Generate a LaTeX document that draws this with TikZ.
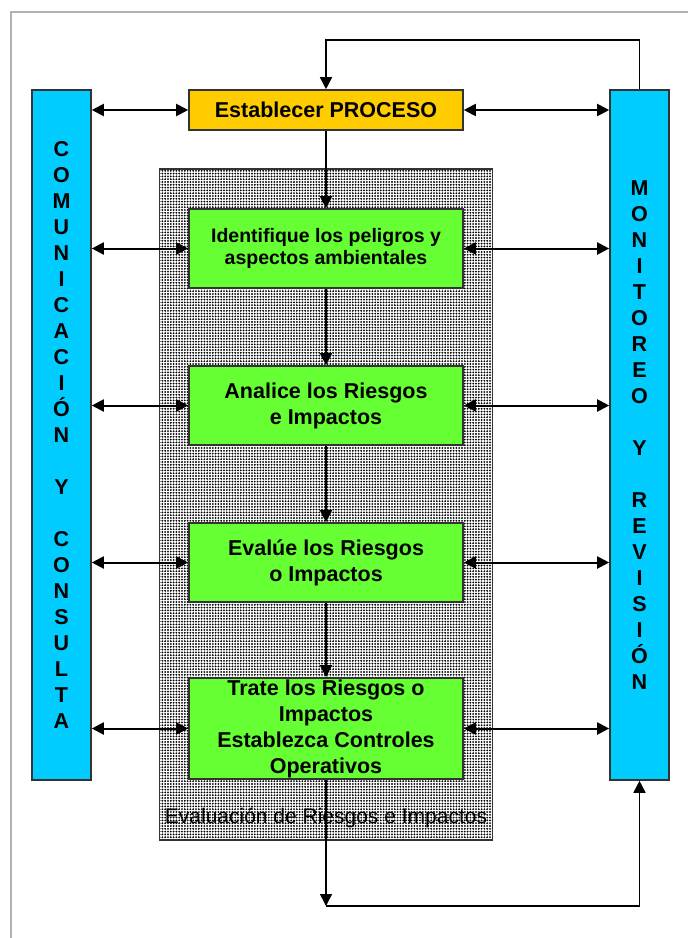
\documentclass[tikz,border=0pt]{standalone}
\usepackage{fontspec}
\setmainfont{Liberation Sans}
\usetikzlibrary{arrows.meta,patterns.meta}
\definecolor{celeste}{HTML}{00CCFF}
\definecolor{naranja}{HTML}{FFCC00}
\definecolor{verde}{HTML}{66FF33}
\def\letra{\fontsize{10.75}{13}\selectfont\bfseries}
\begin{document}
\begin{tikzpicture}[x=0.5pt,y=-0.5pt,
    every node/.style={font=\letra},
    barra/.style={draw=black!80,line width=0.8pt,fill=celeste,minimum width=29.5pt,minimum height=345pt,inner sep=0pt,align=center},
    caja/.style={draw=black!80,line width=0.8pt,fill=verde,minimum width=137pt,minimum height=39.5pt,inner sep=0pt,align=center},
    flecha/.style={line width=0.8pt,-{Triangle[length=6pt,width=6pt]}},
    doble/.style={line width=1pt,{Triangle[length=6pt,width=6pt]}-{Triangle[length=6pt,width=6pt]}}]
    \useasboundingbox (0,0) rectangle (688,938);
    % Rand der Seite
    \draw[black!30,line width=0.7pt] (11,938) -- (11,12) -- (688,12);

    % Zona de evaluacion
    \node[draw=black!80,line width=0.8pt,minimum width=166.5pt,minimum height=335.5pt,inner sep=0pt,
      preaction={fill=white},pattern={Dots[distance=1.4pt,radius=0.52pt]}] (zona) at (326,504.5) {};
    \node[anchor=base,font=\fontsize{10.5}{12}\selectfont,text=black] (etiqueta)
      at ([yshift=8.5pt]zona.south) {Evaluación de Riesgos e Impactos};

    % Barras laterales
    \node[barra] (comunicacion) at (61.5,435)
      {C\\O\\M\\U\\N\\I\\C\\A\\C\\I\\Ó\\N\\[13pt]Y\\[13pt]C\\O\\N\\S\\U\\L\\T\\A};
    \node[barra] (monitoreo) at (639.5,435)
      {M\\O\\N\\I\\T\\O\\R\\E\\O\\[13pt]Y\\[13pt]R\\E\\V\\I\\S\\I\\Ó\\N};

    % Cajas
    \node[caja,fill=naranja,minimum height=20pt] (proceso) at (326,110) {Establecer PROCESO};
    \node[caja,font=\fontsize{9.75}{11.2}\selectfont\bfseries] (identifique) at (326,248.5)
      {Identifique los peligros y\\aspectos ambientales};
    \node[caja] (analice) at (326,405.5) {Analice los Riesgos\\e Impactos};
    \node[caja] (evalue) at (326,562.5) {Evalúe los Riesgos\\o Impactos};
    \node[caja,minimum height=50.5pt] (trate) at (326,728.5)
      {Trate los Riesgos o\\Impactos\\Establezca Controles\\Operativos};

    % Flechas
    \foreach \n in {proceso,identifique,analice,evalue,trate} {
      \draw[doble] (comunicacion.east |- \n.west) -- (\n.west);
      \draw[doble] (\n.east) -- (monitoreo.west |- \n.east);
    }
    \foreach \a/\b in {proceso/identifique,identifique/analice,analice/evalue,evalue/trate}
      \draw[flecha] (\a.south) -- (\b.north);

    % Retornos
    \coordinate (retorno) at (326,40);
    \draw[flecha] (monitoreo.north) |- (retorno) -- (proceso.north);
    \coordinate (salida) at (326,906);
    \draw[flecha] (trate.south) -- (salida);
    \draw[flecha] (salida) -| (monitoreo.south);
\end{tikzpicture}
\end{document}
